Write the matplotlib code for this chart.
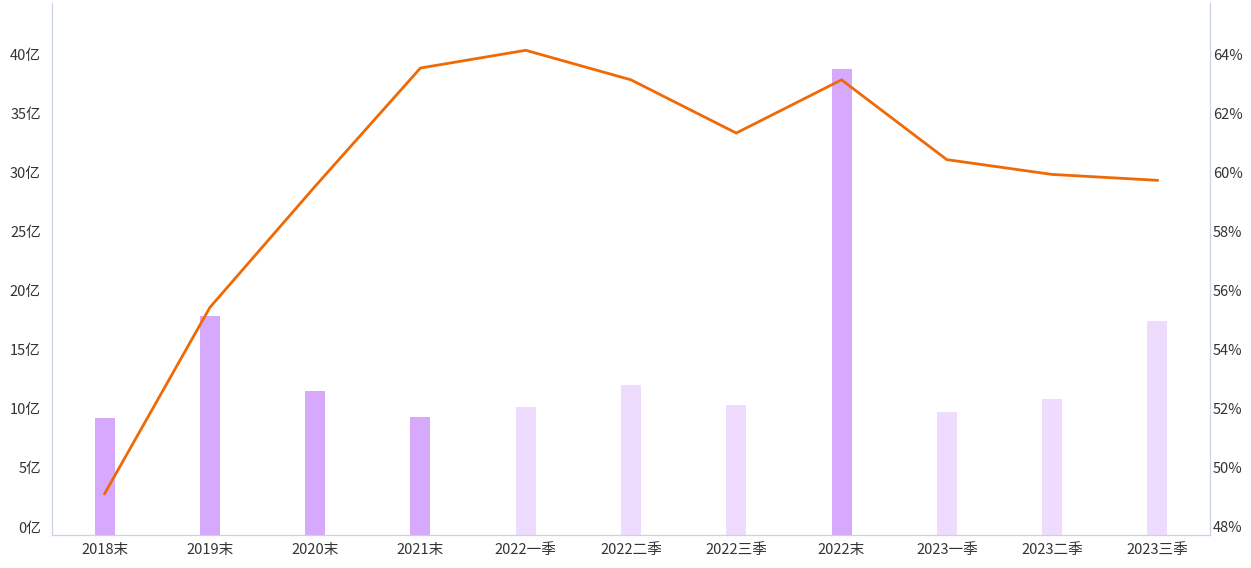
import matplotlib.pyplot as plt
import matplotlib.transforms as mtransforms
import numpy as np

plt.rcParams['font.family'] = ['Noto Sans CJK SC', 'DejaVu Sans']

categories = ['2018末', '2019末', '2020末', '2021末', '2022一季', '2022二季',
              '2022三季', '2022末', '2023一季', '2023二季', '2023三季']
amount = [9.9, 18.5, 12.2, 10.0, 10.8, 12.7, 11.0, 39.4, 10.4, 11.5, 18.1]  # 亿
ratio = [49.4, 55.7, 59.8, 63.8, 64.4, 63.4, 61.6, 63.4, 60.7, 60.2, 60.0]  # %
annual = [True, True, True, True, False, False, False, True, False, False, False]

dark = '#d6a9fc'
light = '#eedcfe'
line_color = '#ef6a07'
spine_color = '#c8d4e6'

fig = plt.figure(figsize=(12.51, 5.68), dpi=100)
ax = fig.add_axes([52 / 1251, 33 / 568, 1158 / 1251, 532 / 568])
x = np.arange(len(categories))
ax.bar(x, amount, width=0.19, color=[dark if a else light for a in annual], zorder=1)
ax.set_xlim(-0.5, len(categories) - 0.5)
ax.set_ylim(0, 45)
ax.set_yticks(range(0, 45, 5))
ax.set_yticklabels([f'{v}亿' for v in range(0, 45, 5)])
ax.set_xticks(x)
ax.set_xticklabels(categories)

ax2 = ax.twinx()
ax2.plot(x, ratio, color=line_color, lw=2.0, zorder=3)
ax2.set_ylim(48, 66)
ax2.set_yticks(range(48, 66, 2))
ax2.set_yticklabels([f'{v}%' for v in range(48, 66, 2)])

for a in (ax, ax2):
    a.spines['top'].set_visible(False)
    for s in ('left', 'right', 'bottom'):
        a.spines[s].set_color(spine_color)
    a.tick_params(length=0, labelsize=10.5, labelcolor='#333333')

ax.tick_params(axis='x', pad=6)
ax.tick_params(axis='y', pad=8)
ax2.tick_params(axis='y', pad=2)
shift = mtransforms.ScaledTranslation(0, 8 / 100, fig.dpi_scale_trans)
for lab in ax.get_yticklabels() + ax2.get_yticklabels():
    lab.set_transform(lab.get_transform() + shift)

fig.savefig('out.png', dpi=100)
